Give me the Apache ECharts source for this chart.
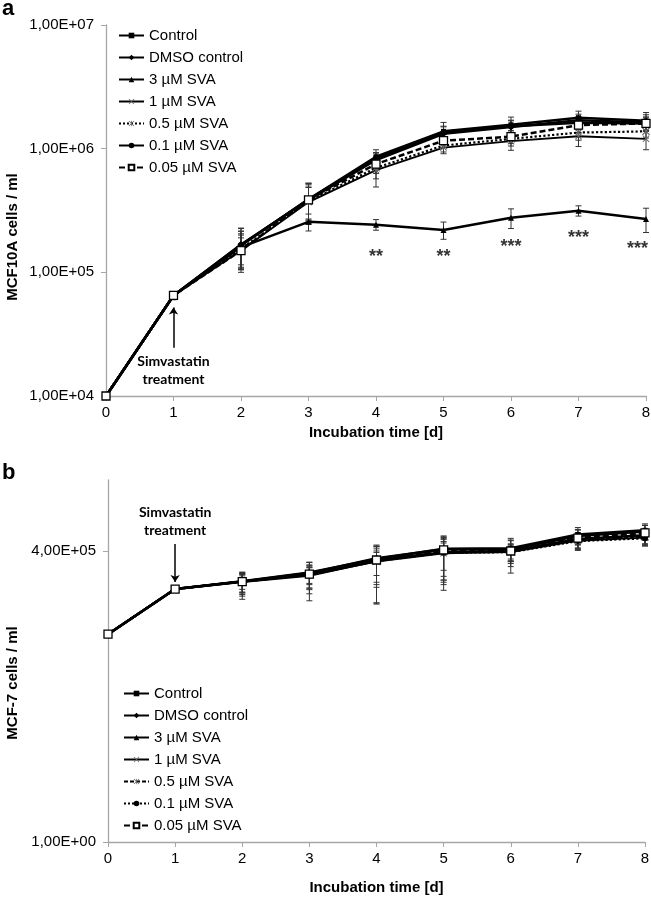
<!doctype html>
<html>
    <head>
        <meta charset="utf-8">
        <title>MCF10A / MCF-7 growth</title>
        <style>
            html, body { margin: 0; padding: 0; background: #fff; }
            #main { width: 651px; height: 897px; }
        </style>
    </head>
    <body>
        <div id="main"></div>
        <script src="https://cdn.jsdelivr.net/npm/echarts@6/dist/echarts.min.js"></script>
        <script>

            // ---- data ----
            var days = [0, 1, 2, 3, 4, 5, 6, 7, 8];
            var names = ['Control', 'DMSO control', '3 µM SVA', '1 µM SVA', '0.5 µM SVA', '0.1 µM SVA', '0.05 µM SVA'];

            // panel a: MCF10A cells / ml (mean)
            var aControl = [1e4, 6.5e4, 1.65e5, 3.9e5, 8.6e5, 1.38e6, 1.56e6, 1.78e6, 1.68e6];
            var aDmso    = [1e4, 6.5e4, 1.68e5, 3.85e5, 8.1e5, 1.32e6, 1.5e6, 1.7e6, 1.63e6];
            var aSva3    = [1e4, 6.5e4, 1.6e5, 2.56e5, 2.43e5, 2.2e5, 2.76e5, 3.15e5, 2.7e5];
            var aSva1    = [1e4, 6.5e4, 1.5e5, 3.7e5, 6.7e5, 1.02e6, 1.15e6, 1.26e6, 1.2e6];
            var aSva05   = [1e4, 6.5e4, 1.55e5, 3.75e5, 7.0e5, 1.06e6, 1.2e6, 1.35e6, 1.38e6];
            var aSva01   = [1e4, 6.5e4, 1.66e5, 3.9e5, 8.3e5, 1.35e6, 1.52e6, 1.62e6, 1.6e6];
            var aSva005  = [1e4, 6.5e4, 1.5e5, 3.86e5, 7.5e5, 1.16e6, 1.25e6, 1.55e6, 1.6e6];
            // panel a: standard deviations
            var aControlSd = [0, 4e3, 5e4, 1.3e5, 1.2e5, 2.5e5, 2.4e5, 2.3e5, 2.8e5];
            var aDmsoSd    = [0, 4e3, 6e4, 1.4e5, 1.1e5, 2e5, 2e5, 2e5, 2.5e5];
            var aSva3Sd    = [0, 5e3, 5.5e4, 4e4, 2.4e4, 3.5e4, 5e4, 3e4, 6e4];
            var aSva1Sd    = [0, 4e3, 4e4, 1.2e5, 1.8e5, 1.1e5, 1.8e5, 2.2e5, 2.2e5];
            var aSva05Sd   = [0, 4e3, 5e4, 1.1e5, 1.3e5, 1.2e5, 1.5e5, 1.8e5, 1.6e5];
            var aSva01Sd   = [0, 4e3, 6e4, 1.2e5, 1e5, 1.5e5, 1.6e5, 2e5, 2e5];
            var aSva005Sd  = [0, 4e3, 5e4, 1.4e5, 1.2e5, 1.4e5, 1.5e5, 2e5, 2e5];

            // panel b: MCF-7 cells / ml (mean)
            var bControl = [1e4, 7.4e4, 1.05e5, 1.55e5, 2.8e5, 4.4e5, 4.5e5, 8.3e5, 1.0e6];
            var bDmso    = [1e4, 7.4e4, 1.04e5, 1.5e5, 2.9e5, 4.3e5, 4.3e5, 7.8e5, 9.5e5];
            var bSva3    = [1e4, 7.4e4, 1.02e5, 1.35e5, 2.6e5, 3.8e5, 4.0e5, 6.8e5, 8.0e5];
            var bSva1    = [1e4, 7.4e4, 1.02e5, 1.38e5, 2.5e5, 3.6e5, 3.8e5, 6.3e5, 7.2e5];
            var bSva05   = [1e4, 7.4e4, 1.03e5, 1.42e5, 2.6e5, 3.9e5, 3.9e5, 6.6e5, 7.6e5];
            var bSva01   = [1e4, 7.4e4, 1.03e5, 1.4e5, 2.55e5, 3.7e5, 3.8e5, 6.2e5, 7.0e5];
            var bSva005  = [1e4, 7.4e4, 1.03e5, 1.44e5, 2.68e5, 4.2e5, 4.0e5, 7.1e5, 8.9e5];
            // panel b: standard deviations
            var bControlSd = [0, 0, 4e4, 6e4, 2.4e5, 3.4e5, 2.5e5, 3e5, 3.3e5];
            var bDmsoSd    = [0, 0, 5e4, 9e4, 2e5, 3e5, 2e5, 2.6e5, 3e5];
            var bSva3Sd    = [0, 0, 5.5e4, 6e4, 2.2e5, 3.1e5, 1.5e5, 2.2e5, 2.5e5];
            var bSva1Sd    = [0, 0, 4e4, 6e4, 1.5e5, 2.5e5, 1.2e5, 2e5, 2.2e5];
            var bSva05Sd   = [0, 0, 4.5e4, 7e4, 1.8e5, 2.8e5, 1.4e5, 2.2e5, 2.4e5];
            var bSva01Sd   = [0, 0, 3e4, 5e4, 1.2e5, 2e5, 1e5, 1.8e5, 2e5];
            var bSva005Sd  = [0, 0, 4e4, 1e5, 2.3e5, 3.3e5, 2.5e5, 3e5, 3.5e5];

            // significance marks (panel a, 3 µM SVA)
            var sigDays   = [4, 5, 6, 7, 8];
            var sigLabels = ['**', '**', '***', '***', '***'];
            var sigY      = [1.33e5, 1.33e5, 1.6e5, 1.9e5, 1.54e5];

            // treatment arrows: [start, end] in cells / ml at day 1
            var arrowA = [2.45e4, 5.2e4];
            var arrowB = [5.45e5, 1.01e5];

            // y ticks of panel b
            var bTicks = [1, 4e5];

            // ---- styles ----
            var xPath = 'path://M0,1L1,0L5,4L9,0L10,1L6,5L10,9L9,10L5,6L1,10L0,9L4,5Z';
            var starPath = 'path://M0,1L1,0L5,4L9,0L10,1L6,5L10,9L9,10L5,6L1,10L0,9L4,5Z M4.4,0L5.6,0L5.6,10L4.4,10Z';
            var FONT = 'Liberation Sans';
            var ZW = '\u200b'; // keeps panel b legend entries separate

            function sci(v) {
                var p = Number(v).toExponential(2).split('e');
                var e = parseInt(p[1], 10);
                var a = Math.abs(e);
                return p[0].replace('.', ',') + 'E' + (e < 0 ? '-' : '+') + (a < 10 ? '0' : '') + a;
            }

            function pairs(vals) {
                return days.map(function (d, i) { return [d, vals[i]]; });
            }

            function errData(means, sds) {
                var out = [];
                means.forEach(function (m, k) {
                    days.forEach(function (d, i) {
                        if (sds[k][i] > 0) out.push([d, m[i], sds[k][i]]);
                    });
                });
                return out;
            }

            function renderErr(params, api) {
                var x = api.value(0), m = api.value(1), sd = api.value(2);
                var hi = api.coord([x, m + sd]);
                var lo = api.coord([x, Math.max(m - sd, 1)]);
                var w = 3;
                var st = { stroke: '#333', lineWidth: 1 };
                return {
                    type: 'group',
                    children: [
                        { type: 'line', shape: { x1: hi[0], y1: hi[1], x2: lo[0], y2: lo[1] }, style: st },
                        { type: 'line', shape: { x1: hi[0] - w, y1: hi[1], x2: hi[0] + w, y2: hi[1] }, style: st },
                        { type: 'line', shape: { x1: lo[0] - w, y1: lo[1], x2: lo[0] + w, y2: lo[1] }, style: st }
                    ]
                };
            }

            // symbol / line per series: [symbol, size, lineType, lineWidth, fill]
            var aLook = [
                ['rect', 5, 'solid', 2.5, '#000'],
                ['diamond', 7, 'solid', 2.5, '#000'],
                ['triangle', 6, 'solid', 2.5, '#000'],
                [xPath, 7, 'solid', 1.8, '#666'],
                [starPath, 8, 'dotted', 2.2, '#666'],
                ['circle', 6, 'solid', 2.5, '#000'],
                ['rect', 8, [6, 3], 2.5, '#fff']
            ];
            var bLook = [
                ['rect', 5, 'solid', 2.5, '#000'],
                ['diamond', 7, 'solid', 2.5, '#000'],
                ['triangle', 6, 'solid', 2.5, '#000'],
                [xPath, 7, 'solid', 1.8, '#666'],
                [starPath, 8, [4, 2], 2.2, '#666'],
                ['circle', 6, 'dotted', 2.2, '#000'],
                ['rect', 8, [6, 3], 2.5, '#fff']
            ];

            function lineSeries(name, vals, look, axis, z) {
                return {
                    type: 'line',
                    name: name,
                    xAxisIndex: axis,
                    yAxisIndex: axis,
                    data: pairs(vals),
                    symbol: look[0],
                    symbolSize: look[1],
                    showAllSymbol: true,
                    z: z,
                    lineStyle: { color: '#000', width: look[3], type: look[2] },
                    itemStyle: {
                        color: look[4],
                        borderColor: look[4] === '#fff' ? '#000' : look[4],
                        borderWidth: look[4] === '#fff' ? 1.3 : 0
                    },
                    emphasis: { disabled: true }
                };
            }

            var aMeans = [aControl, aDmso, aSva3, aSva1, aSva05, aSva01, aSva005];
            var aSds = [aControlSd, aDmsoSd, aSva3Sd, aSva1Sd, aSva05Sd, aSva01Sd, aSva005Sd];
            var bMeans = [bControl, bDmso, bSva3, bSva1, bSva05, bSva01, bSva005];
            var bSds = [bControlSd, bDmsoSd, bSva3Sd, bSva1Sd, bSva05Sd, bSva01Sd, bSva005Sd];

            var series = [];
            series.push({ type: 'custom', name: 'errA', xAxisIndex: 0, yAxisIndex: 0, z: 1, silent: true,
                renderItem: renderErr, data: errData(aMeans, aSds), encode: { x: 0, y: 1 } });
            series.push({ type: 'custom', name: 'errB', xAxisIndex: 1, yAxisIndex: 1, z: 1, silent: true,
                renderItem: renderErr, data: errData(bMeans, bSds), encode: { x: 0, y: 1 } });

            names.forEach(function (n, i) {
                series.push(lineSeries(n, aMeans[i], aLook[i], 0, 2 + i));
            });
            names.forEach(function (n, i) {
                series.push(lineSeries(n + ZW, bMeans[i], bLook[i], 1, 2 + i));
            });

            var arrowLabel = {
                show: true,
                position: 'start',
                formatter: 'Simvastatin\ntreatment',
                fontFamily: 'Lato',
                fontWeight: 'bold',
                fontSize: 14,
                lineHeight: 18,
                color: '#000',
                distance: 5
            };
            // arrow on the Control series of each panel
            series[2].markLine = {
                silent: true, animation: false,
                symbol: ['none', 'arrow'], symbolSize: 7,
                lineStyle: { color: '#000', width: 1.5, type: 'solid' },
                label: arrowLabel,
                data: [[{ coord: [1, arrowA[0]] }, { coord: [1, arrowA[1]] }]]
            };
            series[9].markLine = {
                silent: true, animation: false,
                symbol: ['none', 'arrow'], symbolSize: 7,
                lineStyle: { color: '#000', width: 1.5, type: 'solid' },
                label: arrowLabel,
                data: [[{ coord: [1, arrowB[0]] }, { coord: [1, arrowB[1]] }]]
            };

            series.push({
                type: 'scatter', name: 'sig', xAxisIndex: 0, yAxisIndex: 0, z: 10, silent: true,
                clip: false,
                symbolSize: 1, itemStyle: { color: 'rgba(0,0,0,0)' },
                data: sigDays.map(function (d, i) {
                    var item = { value: [d, sigY[i], sigLabels[i]] };
                    // last mark sits on the plot edge: keep it inside the picture
                    if (d === days[days.length - 1]) item.label = { align: 'right', offset: [2, 0] };
                    return item;
                }),
                label: {
                    show: true, position: 'inside',
                    formatter: function (p) { return p.value[2]; },
                    fontFamily: FONT, fontWeight: 'bold', fontSize: 18, color: '#000'
                }
            });

            var axisGray = '#a6a6a6';
            function xAxis(grid, gap) {
                return {
                    type: 'value', gridIndex: grid, min: 0, max: 8, interval: 1,
                    name: 'Incubation time [d]', nameLocation: 'middle', nameGap: gap,
                    nameTextStyle: { fontFamily: FONT, fontWeight: 'bold', fontSize: 15, color: '#000' },
                    axisLine: { lineStyle: { color: axisGray, width: 1.3 } },
                    axisTick: { show: true, length: 5, lineStyle: { color: axisGray } },
                    axisLabel: { fontFamily: FONT, fontSize: 15, color: '#000', margin: 9 },
                    splitLine: { show: false }
                };
            }

            var legendText = { fontFamily: FONT, fontSize: 15, color: '#000', lineHeight: 17 };

            var myChart = echarts.init(document.getElementById('main'), null, { renderer: 'canvas' });

            myChart.setOption({
                animation: false,
                backgroundColor: '#fff',
                grid: [
                    { left: 106, top: 25, width: 540, height: 371, outerBoundsMode: 'none' },
                    { left: 108, top: 480, width: 537, height: 362, outerBoundsMode: 'none' }
                ],
                legend: [
                    {
                        data: names, orient: 'vertical', left: 113, top: 22,
                        itemWidth: 25, itemHeight: 7, itemGap: 5, selectedMode: false,
                        textStyle: legendText
                    },
                    {
                        data: names.map(function (n) { return n + ZW; }),
                        formatter: function (n) { return n.replace(ZW, ''); },
                        orient: 'vertical', left: 118, top: 680,
                        itemWidth: 25, itemHeight: 7, itemGap: 5, selectedMode: false,
                        textStyle: legendText
                    }
                ],
                xAxis: [xAxis(0, 29), xAxis(1, 38)],
                yAxis: [
                    {
                        type: 'log', gridIndex: 0, logBase: 10, min: 1e4, max: 1e7,
                        axisLine: { show: true, lineStyle: { color: axisGray, width: 1.3 } },
                        axisTick: { show: true, length: 5, lineStyle: { color: axisGray } },
                        axisLabel: { fontFamily: FONT, fontSize: 15, color: '#000', margin: 12, formatter: sci },
                        splitLine: { show: false }, minorTick: { show: false }
                    },
                    {
                        type: 'log', gridIndex: 1, logBase: 10, min: 1, max: 9.3e6,
                        axisLine: { show: true, lineStyle: { color: axisGray, width: 1.3 } },
                        axisTick: { show: true, length: 5, lineStyle: { color: axisGray }, customValues: bTicks },
                        axisLabel: { fontFamily: FONT, fontSize: 15, color: '#000', margin: 12, formatter: sci, customValues: bTicks },
                        splitLine: { show: false }, minorTick: { show: false }
                    }
                ],
                graphic: [
                    { type: 'text', left: 2, top: -2, style: { text: 'a', font: 'bold 22px "Liberation Sans"', fill: '#000' } },
                    { type: 'text', left: 2, top: 462, style: { text: 'b', font: 'bold 22px "Liberation Sans"', fill: '#000' } },
                    { type: 'text', x: 13, y: 237, rotation: Math.PI / 2,
                      style: { text: 'MCF10A cells / ml', font: 'bold 15px "Liberation Sans"', fill: '#000', align: 'center', verticalAlign: 'middle' } },
                    { type: 'text', x: 13, y: 683, rotation: Math.PI / 2,
                      style: { text: 'MCF-7 cells / ml', font: 'bold 15px "Liberation Sans"', fill: '#000', align: 'center', verticalAlign: 'middle' } }
                ],
                series: series
            });

        </script>
    </body>
</html>
